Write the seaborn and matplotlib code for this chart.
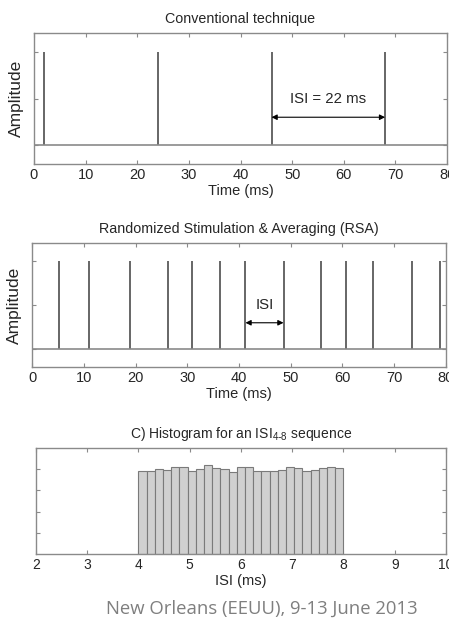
import numpy as np
import pandas as pd
import matplotlib
matplotlib.use("Agg")
import matplotlib.pyplot as plt
import seaborn as sns

# spike times (ms)
conv_spikes = [2, 24, 46, 68]
rsa_spikes = [5.3, 11.1, 19.0, 26.2, 31.0, 36.3, 41.25, 48.6, 55.8, 60.6, 65.8, 73.4, 78.8]

# histogram of ISI 4-8 ms, 25 bins
hist_centers = [4.08, 4.24, 4.40, 4.56, 4.72, 4.88, 5.04, 5.20, 5.36, 5.52,
                5.68, 5.84, 6.00, 6.16, 6.32, 6.48, 6.64, 6.80, 6.96, 7.12,
                7.28, 7.44, 7.60, 7.76, 7.92]
hist_counts = [1972, 1964, 2003, 1995, 2058, 2050, 1972, 2011, 2098, 2027,
               2003, 1940, 2050, 2050, 1964, 1964, 1964, 1995, 2058, 2043,
               1964, 1987, 2035, 2066, 2027]

sns.set_style("white")
plt.rcParams['font.family'] = ['Liberation Sans', 'DejaVu Sans']

frame_col = '#8a8a8a'
spike_col = '#4d4d4d'

fig = plt.figure(figsize=(4.49, 6.19), dpi=100)


def style_axes(ax, lsize=10.5):
    for s in ax.spines.values():
        s.set_color(frame_col)
        s.set_linewidth(1.0)
    ax.tick_params(direction='in', length=3, color=frame_col, top=True, right=True,
                   left=True, bottom=True, labelsize=lsize, pad=3)
    ax.set_yticklabels([])


def spike_panel(ax, spikes, title):
    ax.vlines(spikes, 0, 1, color=spike_col, lw=1.2)
    ax.axhline(0, color=frame_col, lw=1.2)
    ax.set_xlim(0, 80)
    ax.set_ylim(-0.2, 1.2)
    ax.set_xticks(range(0, 81, 10))
    ax.set_yticks([0, 0.5, 1])
    style_axes(ax)
    ax.set_title(title, fontsize=10.3, pad=7)
    ax.set_xlabel('Time (ms)', fontsize=10.5, labelpad=1.5)
    ax.set_ylabel('Amplitude', fontsize=12.5, labelpad=4)


ax1 = fig.add_axes([0.0757, 0.735, 0.92, 0.2117])
spike_panel(ax1, conv_spikes, 'Conventional technique')
ax1.annotate('', xy=(conv_spikes[2], 0.3), xytext=(conv_spikes[3], 0.3),
             arrowprops=dict(arrowstyle='<|-|>', color='black', lw=0.8,
                             mutation_scale=8, shrinkA=0, shrinkB=0))
ax1.text(57, 0.5, 'ISI = 22 ms', ha='center', va='center', fontsize=10.8)

ax2 = fig.add_axes([0.0713, 0.407, 0.922, 0.2004])
spike_panel(ax2, rsa_spikes, 'Randomized Stimulation & Averaging (RSA)')
ax2.annotate('', xy=(rsa_spikes[6], 0.3), xytext=(rsa_spikes[7], 0.3),
             arrowprops=dict(arrowstyle='<|-|>', color='black', lw=0.8,
                             mutation_scale=8, shrinkA=0, shrinkB=0))
ax2.text(44.9, 0.5, 'ISI', ha='center', va='center', fontsize=10.8)

ax3 = fig.add_axes([0.080, 0.105, 0.9133, 0.171])
df = pd.DataFrame({'isi': hist_centers, 'count': hist_counts})
sns.histplot(data=df, x='isi', weights='count', bins=25, binrange=(4, 8), ax=ax3,
             color='#d0d0d0', edgecolor='#7a7a7a', linewidth=0.8, alpha=1)
ax3.set_xlim(2, 10)
ax3.set_ylim(0, 2500)
ax3.set_xticks(range(2, 11))
ax3.set_yticks([500, 1000, 1500, 2000])
style_axes(ax3, lsize=10)
ax3.set_title(r'C) Histogram for an ISI$_{\mathregular{4\text{-}8}}$ sequence', fontsize=10, pad=7)
ax3.set_xlabel('ISI (ms)', fontsize=10.5, labelpad=1.5)
ax3.set_ylabel('')

fig.text(0.582, 0.016, 'New Orleans (EEUU), 9-13 June 2013', ha='center', va='center',
         fontsize=13.3, color='#7f7f7f', family=['Open Sans', 'DejaVu Sans'])

fig.savefig('out.png', dpi=100)
